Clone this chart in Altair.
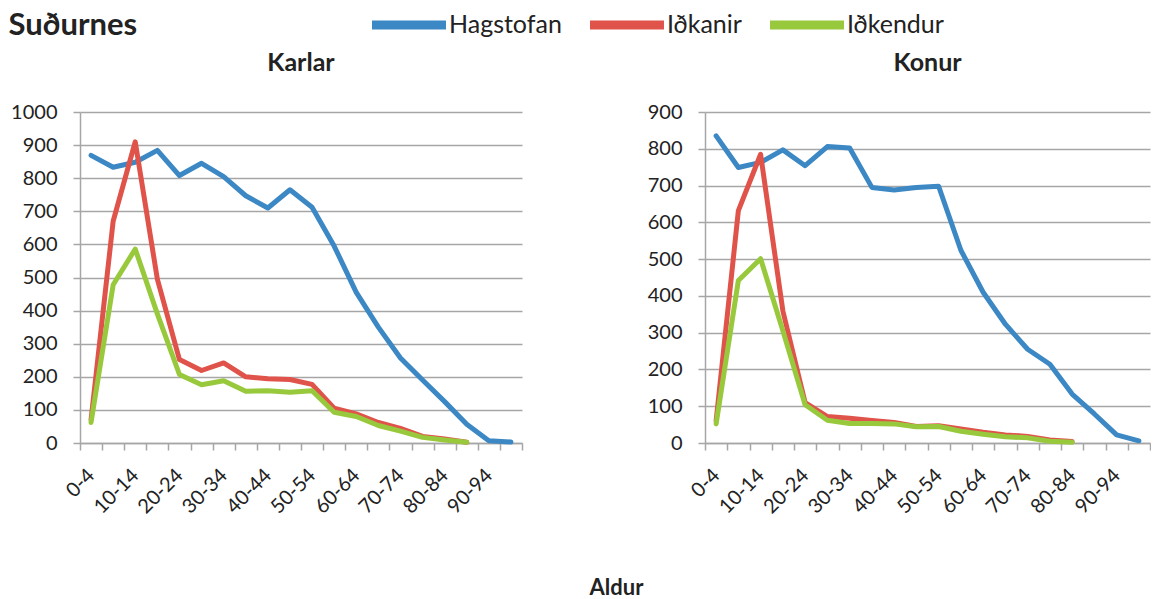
import altair as alt
import pandas as pd

ages = ["0-4", "5-9", "10-14", "15-19", "20-24", "25-29", "30-34", "35-39",
        "40-44", "45-49", "50-54", "55-59", "60-64", "65-69", "70-74", "75-79",
        "80-84", "85-89", "90-94", "95-99"]
series = ["Hagstofan", "Iðkanir", "Iðkendur"]
colors = ["#3B88C4", "#E0534A", "#98C93C"]

karlar_hagstofan = [869, 833, 848, 884, 808, 845, 805, 747, 710, 765, 712, 595,
                    455, 350, 257, 190, 125, 57, 7, 3]
karlar_idkanir = [70, 670, 910, 495, 252, 219, 242, 200, 194, 192, 177, 105,
                  88, 62, 44, 20, 12, 2]
karlar_idkendur = [62, 478, 586, 390, 207, 176, 188, 156, 158, 153, 158, 93,
                   80, 53, 36, 17, 9, 2]

konur_hagstofan = [835, 749, 763, 797, 754, 806, 802, 695, 688, 695, 698, 524,
                   410, 323, 255, 214, 133, 79, 22, 6]
konur_idkanir = [60, 632, 785, 359, 110, 72, 67, 61, 56, 45, 47, 38, 29, 22,
                 18, 8, 4]
konur_idkendur = [52, 442, 501, 305, 104, 62, 53, 53, 52, 44, 45, 32, 24, 17,
                  14, 5, 2]

rows = []
for panel_name, data in [("Karlar", [karlar_hagstofan, karlar_idkanir, karlar_idkendur]),
                         ("Konur", [konur_hagstofan, konur_idkanir, konur_idkendur])]:
    for s, vals in zip(series, data):
        for a, v in zip(ages, vals):
            rows.append({"panel": panel_name, "series": s, "age": a, "value": v})
df = pd.DataFrame(rows)

FONT = "Lato"
GRID = "#A6A6A6"
TXT = "#222222"

legend = alt.Legend(
    title=None, orient="none", direction="horizontal",
    legendX=315, legendY=-101,
    symbolType="M-4,0H4", symbolSize=342, symbolStrokeWidth=9,
    labelFontSize=25, labelFont=FONT, labelColor=TXT,
    labelOffset=26, columnPadding=10,
)

LABEL_EXPR = "toNumber(split(datum.value, '-')[0]) % 10 == 0 ? datum.label : ''"


def x_axis(with_title):
    kw = dict(
        labelAngle=-45, labelAlign="right", labelBaseline="middle",
        labelFontSize=20, labelFont=FONT, labelColor=TXT,
        labelExpr=LABEL_EXPR, labelOverlap=False, labelPadding=22,
        tickBand="extent", tickSize=7, tickColor=GRID, tickWidth=1.5,
        domainColor=GRID, domainWidth=1.5, grid=False,
    )
    if with_title:
        kw.update(titleX=536, titleY=144, titleAlign="center",
                  titleBaseline="middle", titleAngle=0, titleFontSize=22,
                  titleFont=FONT, titleFontWeight="bold", titleColor=TXT)
    return alt.Axis(**kw)


def panel(name, ymax, width, xtitle):
    return alt.Chart(df).transform_filter(
        alt.datum.panel == name
    ).mark_line(strokeWidth=5, strokeJoin="round", strokeCap="round").encode(
        x=alt.X("age:N", sort=ages, title=xtitle if xtitle else None,
                scale=alt.Scale(type="band", paddingInner=0, paddingOuter=0),
                axis=x_axis(bool(xtitle))),
        y=alt.Y("value:Q", title=None,
                scale=alt.Scale(domain=[0, ymax], nice=False),
                axis=alt.Axis(values=list(range(0, ymax + 1, 100)), format="d",
                              labelFontSize=20, labelFont=FONT, labelColor=TXT,
                              labelPadding=16, tickSize=7, tickColor=GRID, tickWidth=1.5,
                              gridColor=GRID, gridWidth=1.5,
                              domainColor=GRID, domainWidth=1.5)),
        color=alt.Color("series:N", scale=alt.Scale(domain=series, range=colors),
                        legend=legend),
        detail="series:N",
    ).properties(
        width=width, height=331,
        title=alt.TitleParams(name, fontSize=25, font=FONT, fontWeight="bold",
                              color=TXT, anchor="middle", offset=26),
    )


left = panel("Karlar", 1000, 442, "Aldur")
right = panel("Konur", 900, 445, None)

chart = alt.hconcat(left, right, spacing=183, bounds="flush").properties(
    title=alt.TitleParams("Suðurnes", anchor="start", frame="bounds", fontSize=31,
                          font=FONT, fontWeight="bold", color=TXT, offset=-31,
                          dx=-2),
    padding={"left": 0, "top": 2, "right": 0, "bottom": 0},
).configure_view(stroke=None)

chart.save("out.html", embed_options={"renderer": "svg", "actions": False})
